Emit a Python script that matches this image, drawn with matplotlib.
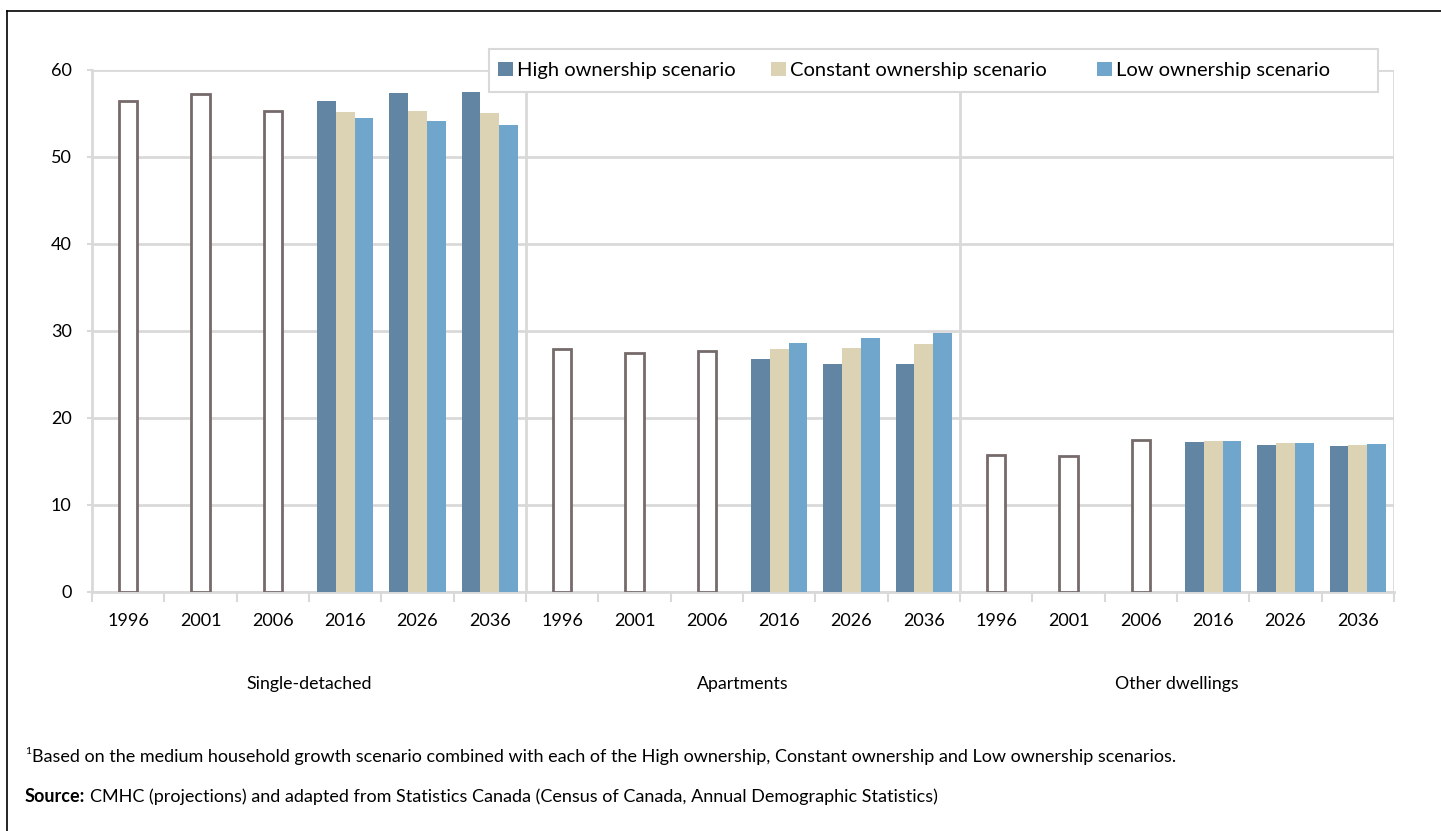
import matplotlib
matplotlib.use("Agg")
import matplotlib.pyplot as plt
import matplotlib.transforms as mtransforms
from matplotlib.lines import Line2D
from matplotlib.patches import Rectangle
import numpy as np

plt.rcParams['font.family'] = ['Lato', 'DejaVu Sans']

# ---------------- data ----------------
years = ['1996', '2001', '2006', '2016', '2026', '2036']
groups = ['Single-detached', 'Apartments', 'Other dwellings']
hist_single = [56.4, 57.2, 55.2]
hist_apart = [27.9, 27.4, 27.6]
hist_other = [15.7, 15.6, 17.4]
high = [56.4, 57.3, 57.4, 26.7, 26.2, 26.2, 17.2, 16.9, 16.7]
const = [55.1, 55.25, 55.0, 27.9, 28.0, 28.5, 17.3, 17.1, 16.9]
low = [54.4, 54.1, 53.6, 28.6, 29.1, 29.7, 17.35, 17.1, 16.95]
series_names = ['High ownership scenario', 'Constant ownership scenario', 'Low ownership scenario']
yticks = [0, 10, 20, 30, 40, 50, 60]

footnote = ("Based on the medium household growth scenario combined with each of the High ownership, "
            "Constant ownership and Low ownership scenarios.")
source_bold = "Source:"
source_text = "CMHC (projections) and adapted from Statistics Canada (Census of Canada, Annual Demographic Statistics)"

# ---------------- style ----------------
c_high = '#6185a3'
c_const = '#dbd3b3'
c_low = '#70a6cb'
c_hist = '#766a6a'
grid = '#d9d9d9'

W, H = 1441, 831
fig = plt.figure(figsize=(W / 100, H / 100), dpi=100)
ax = fig.add_axes([92 / W, 1 - 591.7 / H, (1394 - 92) / W, (591.7 - 69.5) / H])

n_years = len(years)
hist_all = [hist_single, hist_apart, hist_other]
slot_centers = np.arange(n_years * len(groups)) + 0.5

hist_x, hist_v = [], []
proj_x = []
for g in range(len(groups)):
    for i in range(3):
        hist_x.append(g * n_years + i + 0.5)
        hist_v.append(hist_all[g][i])
    for i in range(3, n_years):
        proj_x.append(g * n_years + i + 0.5)
proj_x = np.array(proj_x)

bw = 0.26
ax.bar(hist_x, hist_v, width=0.25, facecolor='white', edgecolor=c_hist, linewidth=2.0, zorder=3)
b1 = ax.bar(proj_x - bw, high, width=bw, color=c_high, zorder=3, label=series_names[0])
b2 = ax.bar(proj_x, const, width=bw, color=c_const, zorder=3, label=series_names[1])
b3 = ax.bar(proj_x + bw, low, width=bw, color=c_low, zorder=3, label=series_names[2])

ax.set_xlim(0, n_years * len(groups))
ax.set_ylim(0, 60)

for s in ['top', 'right']:
    ax.spines[s].set_visible(False)
for s in ['left', 'bottom']:
    ax.spines[s].set_color(grid)
    ax.spines[s].set_linewidth(2)
    ax.spines[s].set_zorder(1)

ax.set_yticks(yticks)
ax.set_yticklabels([str(v) for v in yticks])
ax.yaxis.grid(True, color=grid, linewidth=2, zorder=0)
ax.set_axisbelow(True)
ax.tick_params(axis='y', length=3.6, width=1.5, color=grid, pad=11, labelsize=13)

# vertical group gridlines
for g in range(1, len(groups) + 1):
    ax.axvline(g * n_years, color=grid, linewidth=2, zorder=0)

ax.set_xticks(slot_centers)
ax.set_xticklabels(years * len(groups))
ax.set_xticks(np.arange(n_years * len(groups) + 1), minor=True)
ax.tick_params(axis='x', which='major', length=0, pad=15, labelsize=13)
ax.tick_params(axis='x', which='minor', length=7, width=1.5, color=grid)

trans = mtransforms.blended_transform_factory(ax.transData, ax.transAxes)
for g, name in enumerate(groups):
    ax.text(g * n_years + n_years / 2, -0.177, name, transform=trans,
            ha='center', va='center', fontsize=12.8)

# legend frame
frame = Rectangle((489 / W, 1 - 92 / H), (1378 - 489) / W, (92 - 49) / H,
                  transform=fig.transFigure, facecolor='white', edgecolor=grid,
                  linewidth=1.5, zorder=4)
fig.add_artist(frame)
leg_x = [498, 771, 1097]
for h, lab, lx in zip([b1, b2, b3], series_names, leg_x):
    lg = fig.legend(handles=[h], labels=[lab], loc='center left',
                    bbox_to_anchor=(lx / W, 1 - 70.5 / H), frameon=False,
                    borderaxespad=0, borderpad=0, handlelength=0.74, handleheight=0.74,
                    handletextpad=0.22, fontsize=14.5)
    lg.set_zorder(6)

# footnotes
fig.text(25 / W, 1 - 751 / H, "1", fontsize=7.5, va='center', ha='left')
fig.text(32 / W, 1 - 757 / H, footnote, fontsize=13, va='center', ha='left')
t = fig.text(25 / W, 1 - 797 / H, source_bold, fontsize=13, va='center', ha='left', fontweight='bold')
fig.canvas.draw()
bb = t.get_window_extent()
fig.text((bb.x1 + 5) / W, 1 - 797 / H, source_text, fontsize=13, va='center', ha='left')

# border (top and left)
fig.add_artist(Line2D([7 / W, 1], [1 - 10.5 / H, 1 - 10.5 / H], color='black', linewidth=1.2, transform=fig.transFigure))
fig.add_artist(Line2D([7.3 / W, 7.3 / W], [0, 1 - 10.5 / H], color='black', linewidth=1.2, transform=fig.transFigure))

fig.savefig('out.png', dpi=100)
